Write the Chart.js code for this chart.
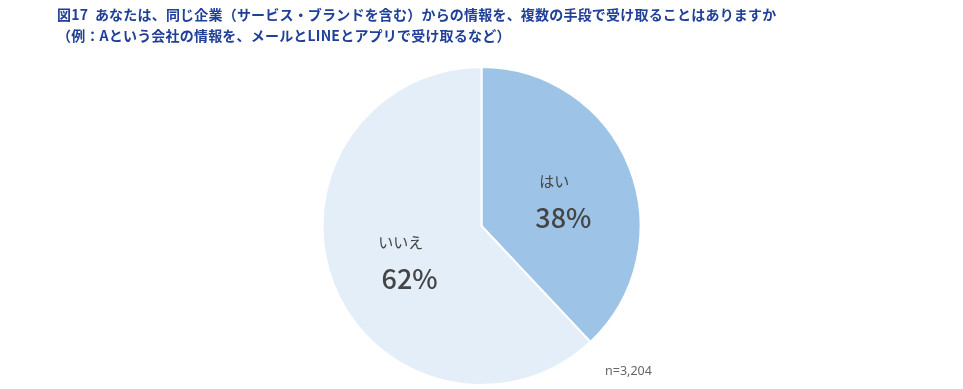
<!DOCTYPE html>
<html><head><meta charset="utf-8">
<script src="https://cdn.jsdelivr.net/npm/chart.js@4/dist/chart.umd.min.js"></script>
<style>
html,body{margin:0;padding:0;background:#fff;}
#wrap{position:relative;width:963px;height:389px;}
#title{position:absolute;left:57px;top:4px;font-family:"Noto Sans CJK JP",sans-serif;font-weight:bold;font-size:14px;line-height:21px;letter-spacing:0.2px;color:#1f3f98;white-space:nowrap;}
#note{position:absolute;left:605px;top:362px;font-family:"Noto Sans",sans-serif;font-size:12.5px;color:#666;}
canvas{position:absolute;left:0;top:0;}
</style></head>
<body>
<div id="wrap">
<canvas id="c" width="963" height="389"></canvas>
<div id="title">図17&nbsp;&nbsp;あなたは、同じ企業（サービス・ブランドを含む）からの情報を、複数の手段で受け取ることはありますか<br>（例：Aという会社の情報を、メールとLINEとアプリで受け取るなど）</div>
<div id="note">n=3,204</div>
</div>
<script>
const categories = ["はい", "いいえ"];
const values = [38, 62];
const colors = ["#9dc3e6", "#e3eef9"];

const labelPlugin = {
  id: 'sliceLabels',
  afterDatasetsDraw(chart) {
    const ctx = chart.ctx;
    const meta = chart.getDatasetMeta(0);
    meta.data.forEach((arc, i) => {
      const p = arc.getProps(['x','y','startAngle','endAngle','outerRadius'], true);
      const mid = (p.startAngle + p.endAngle) / 2;
      const r = p.outerRadius * 0.52;
      const cx = p.x + Math.cos(mid) * r;
      const cy = p.y + Math.sin(mid) * r;
      ctx.save();
      ctx.fillStyle = '#454545';
      ctx.textAlign = 'center';
      ctx.textBaseline = 'middle';
      ctx.font = '15px "Noto Sans CJK JP", sans-serif';
      ctx.fillText(categories[i], cx - 4, cy - 14);
      ctx.font = '500 27px "Noto Sans CJK JP", "Noto Sans", sans-serif';
      ctx.fillText(values[i] + '%', cx + 5, cy + 22);
      ctx.restore();
    });
  }
};

new Chart(document.getElementById('c'), {
  type: 'pie',
  data: {
    labels: categories,
    datasets: [{
      data: values,
      backgroundColor: colors,
      borderColor: '#ffffff',
      borderWidth: 2
    }]
  },
  options: {
    responsive: false,
    animation: false,
    layout: { padding: { top: 66, bottom: 3, left: 0, right: 0 } },
    plugins: {
      legend: { display: false },
      tooltip: { enabled: false },
      title: { display: false }
    }
  },
  plugins: [labelPlugin]
});
</script>
</body></html>
